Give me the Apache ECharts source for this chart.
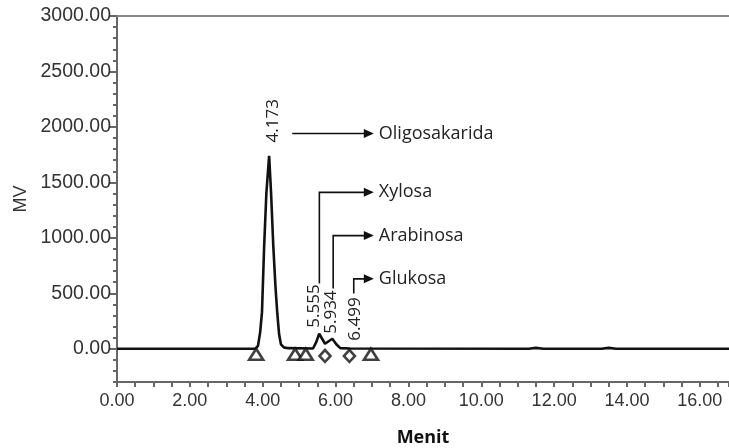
<!DOCTYPE html>
<html>
<head>
<meta charset="utf-8">
<script src="https://cdn.jsdelivr.net/npm/echarts@6/dist/echarts.min.js"></script>
<style>html,body{margin:0;padding:0;background:#fff;}#c{width:729px;height:448px;}</style>
</head>
<body>
<div id="c"></div>
<script>
// Chromatogram trace (minutes, mV)
const times = [0, 3.80, 3.87, 3.93, 3.98, 4.04, 4.10, 4.176, 4.23, 4.29, 4.35, 4.40, 4.45, 4.50, 4.58, 4.70, 5.38, 5.47, 5.55, 5.71, 5.91, 6.02, 6.13, 6.40, 11.3, 11.5, 11.7, 13.3, 13.5, 13.7, 16.8];
const signal = [0, 0, 25, 150, 330, 930, 1400, 1740, 1400, 930, 560, 320, 130, 40, 12, 5, 2, 60, 135, 45, 90, 40, 5, 2, 0, 8, 0, 0, 8, 0, 0];

// Integration markers
const triangleTimes = [3.82, 4.89, 5.18, 6.97];
const triangleMV = [-50, -50, -50, -50];
const diamondTimes = [5.71, 6.38];
const diamondMV = [-65, -65];

// Peak annotations
const peakTimes = [4.173, 5.555, 5.934, 6.499];
const peakLabels = ['4.173', '5.555', '5.934', '6.499'];
const peakNames = ['Oligosakarida', 'Xylosa', 'Arabinosa', 'Glukosa'];
const labelBaseMV = [1860, 190, 135, 72];
const arrowStartMin = [4.81, 5.555, 5.934, 6.499];
const lineStartMV = [1940, 587, 542, 497];
const arrowMV = [1940, 1410, 1020, 630];
const arrowTipMin = 7.05;

// Axis ticks
const yLabels = [0, 500, 1000, 1500, 2000, 2500, 3000];
const xLabels = [0, 2, 4, 6, 8, 10, 12, 14, 16];

const labelDx = [4, -5, -2, 1];

const chart = echarts.init(document.getElementById('c'));
const axisColor = '#666';

chart.setOption({
  animation: false,
  grid: {left: 117, right: 0, top: 16, bottom: 66, containLabel: false, outerBoundsMode: 'none'},
  xAxis: [
    {type: 'value', min: 0, max: 16.8, interval: 0.5,
     axisLine: {onZero: false, lineStyle: {color: axisColor, width: 2}},
     axisTick: {show: true, length: 5, lineStyle: {color: axisColor, width: 2}},
     axisLabel: {customValues: xLabels, margin: 10, formatter: v => v.toFixed(2),
                 color: '#333', fontFamily: 'Liberation Sans', fontSize: 18},
     splitLine: {show: false},
     name: 'Menit', nameLocation: 'middle', nameGap: 47,
     nameTextStyle: {fontFamily: 'Open Sans', fontWeight: 'bold', fontSize: 18, color: '#111'}},
    {type: 'value', min: 0, max: 16.8, position: 'top',
     axisLine: {onZero: false, lineStyle: {color: '#888', width: 2}},
     axisTick: {show: false}, axisLabel: {show: false}, splitLine: {show: false}}
  ],
  yAxis: [
    {type: 'value', min: -300, max: 3000, interval: 100,
     axisLine: {show: true, onZero: false, lineStyle: {color: axisColor, width: 2}},
     axisTick: {show: true, length: 4, lineStyle: {color: axisColor, width: 2}},
     axisLabel: {customValues: yLabels, margin: 6, formatter: v => v.toFixed(2),
                 color: '#333', fontFamily: 'Liberation Sans', fontSize: 19.5},
     splitLine: {show: false},
     name: 'MV', nameLocation: 'middle', nameGap: 86,
     nameTextStyle: {fontFamily: 'Liberation Sans', fontSize: 18, color: '#333'}},
    {type: 'value', min: -300, max: 3000, position: 'left', offset: 0,
     axisLine: {show: false}, axisLabel: {show: false}, splitLine: {show: false},
     axisTick: {show: true, customValues: yLabels, length: 7, lineStyle: {color: axisColor, width: 2}}}
  ],
  series: [
    {type: 'line', data: times.map((t, i) => [t, signal[i]]), showSymbol: false, symbol: 'none',
     lineStyle: {color: '#111', width: 2.6}, z: 3},
    {type: 'scatter', data: triangleTimes.map((t, i) => [t, triangleMV[i]]), symbol: 'triangle', symbolSize: [14, 11],
     itemStyle: {color: '#fff', borderColor: '#111', borderWidth: 2.6}, z: 4},
    {type: 'scatter', data: diamondTimes.map((t, i) => [t, diamondMV[i]]), symbol: 'diamond', symbolSize: [11, 12],
     itemStyle: {color: '#fff', borderColor: '#111', borderWidth: 2.6}, z: 4},
    {type: 'custom', z: 5, silent: true,
     data: peakTimes.map((t, i) => [t, labelBaseMV[i], arrowStartMin[i], lineStartMV[i], arrowMV[i]]),
     renderItem: function (params, api) {
       const i = params.dataIndex;
       const pl = api.coord([api.value(0), api.value(1)]);
       const p0 = api.coord([api.value(2), api.value(3)]);
       const p1 = api.coord([api.value(2), api.value(4)]);
       const p2 = api.coord([arrowTipMin, api.value(4)]);
       return {
         type: 'group',
         children: [
           {type: 'text', x: pl[0] + labelDx[i], y: pl[1], rotation: Math.PI / 2,
            style: {text: peakLabels[i], fontFamily: 'Open Sans', fontSize: 17, fill: '#222',
                    textAlign: 'left', textVerticalAlign: 'middle'}},
           {type: 'polyline', shape: {points: [p0, p1, [p2[0] - 8, p2[1]]]},
            style: {stroke: '#111', lineWidth: 1.6, fill: null}},
           {type: 'polygon', shape: {points: [[p2[0] - 10, p2[1] - 4.5], [p2[0], p2[1]], [p2[0] - 10, p2[1] + 4.5]]},
            style: {fill: '#111'}},
           {type: 'text', x: p2[0] + 5, y: p2[1],
            style: {text: peakNames[i], fontFamily: 'Open Sans', fontSize: 18, fill: '#222',
                    textAlign: 'left', textVerticalAlign: 'middle'}}
         ]
       };
     }}
  ]
});
</script>
</body>
</html>
